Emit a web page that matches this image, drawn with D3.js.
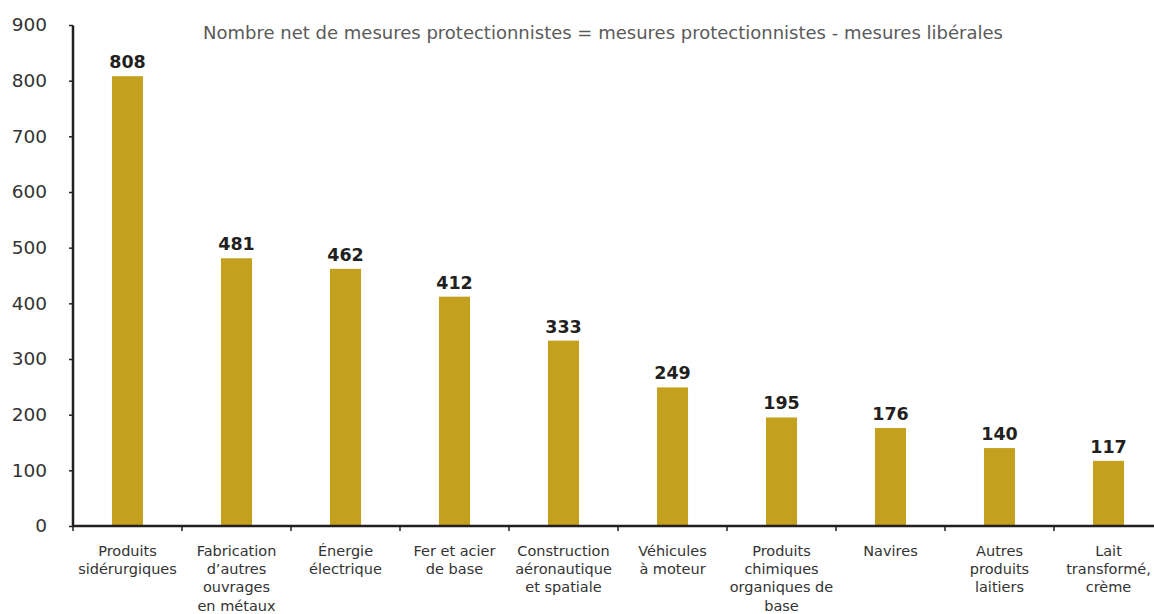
<!DOCTYPE html>
<html lang="fr">
<head>
  <meta charset="UTF-8">
  <title>Mesures protectionnistes</title>
  <script src="https://d3js.org/d3.v7.min.js"></script>
  <style>
    body { margin: 0; background: #fff; }
    svg { display: block; font-family: "DejaVu Sans", sans-serif; }
  </style>
</head>
<body>
<svg id="chart" width="1154" height="614"></svg>
<script>
  // categories (each one split in lines) and values
  const categories = [
    ["Produits", "sidérurgiques"],
    ["Fabrication", "d’autres", "ouvrages", "en métaux"],
    ["Énergie", "électrique"],
    ["Fer et acier", "de base"],
    ["Construction", "aéronautique", "et spatiale"],
    ["Véhicules", "à moteur"],
    ["Produits", "chimiques", "organiques de", "base"],
    ["Navires"],
    ["Autres", "produits", "laitiers"],
    ["Lait", "transformé,", "crème"]
  ];
  const values = [808, 481, 462, 412, 333, 249, 195, 176, 140, 117];
  const yTicks = [0, 100, 200, 300, 400, 500, 600, 700, 800, 900];
  const title = "Nombre net de mesures protectionnistes = mesures protectionnistes - mesures libérales";

  const svg = d3.select("#chart");
  const plotLeft = 73, plotRight = 1163, plotTop = 25, plotBottom = 526;

  const x = d3.scaleBand()
    .domain(d3.range(categories.length))
    .range([plotLeft, plotRight])
    .paddingInner(0)
    .paddingOuter(0);

  const y = d3.scaleLinear().domain([0, 900]).range([plotBottom, plotTop]);

  const barW = x.bandwidth() * 0.285;

  // bars
  svg.selectAll("rect.bar")
    .data(values)
    .join("rect")
    .attr("class", "bar")
    .attr("x", (d, i) => x(i) + x.bandwidth() / 2 - barW / 2)
    .attr("y", d => y(d))
    .attr("width", barW)
    .attr("height", d => y(0) - y(d))
    .attr("fill", "#c3a11f");

  // value labels
  svg.selectAll("text.val")
    .data(values)
    .join("text")
    .attr("class", "val")
    .attr("x", (d, i) => x(i) + x.bandwidth() / 2)
    .attr("y", d => y(d) - 8)
    .attr("text-anchor", "middle")
    .attr("font-size", 17.5)
    .attr("font-weight", "bold")
    .attr("fill", "#231f20")
    .text(d => d);

  // y axis
  const yAxis = svg.append("g")
    .attr("transform", `translate(${plotLeft},0)`)
    .call(d3.axisLeft(y).tickValues(yTicks).tickSize(4).tickPadding(22));
  yAxis.select(".domain").attr("stroke", "#231f20").attr("stroke-width", 2.5)
    .attr("d", `M0,${y(900) + 0.5}V${plotBottom}`);
  yAxis.selectAll(".tick line").attr("stroke", "#231f20").attr("stroke-width", 1.5);
  yAxis.selectAll(".tick text")
    .attr("font-size", 18.5)
    .attr("fill", "#333")
    .attr("font-family", "DejaVu Sans, sans-serif");

  // x axis: ticks at category boundaries
  const xg = svg.append("g");
  xg.append("line")
    .attr("x1", plotLeft).attr("x2", plotRight)
    .attr("y1", plotBottom).attr("y2", plotBottom)
    .attr("stroke", "#231f20").attr("stroke-width", 2.5);
  xg.selectAll("line.tick")
    .data(d3.range(categories.length + 1))
    .join("line")
    .attr("class", "tick")
    .attr("x1", i => i < categories.length ? x(i) : plotRight)
    .attr("x2", i => i < categories.length ? x(i) : plotRight)
    .attr("y1", plotBottom)
    .attr("y2", plotBottom + 5)
    .attr("stroke", "#231f20").attr("stroke-width", 1.5);

  // category labels
  const lab = svg.selectAll("text.cat")
    .data(categories)
    .join("text")
    .attr("class", "cat")
    .attr("x", (d, i) => x(i) + x.bandwidth() / 2)
    .attr("y", 556)
    .attr("text-anchor", "middle")
    .attr("font-size", 14.5)
    .attr("fill", "#333");
  lab.selectAll("tspan")
    .data(d => d)
    .join("tspan")
    .attr("x", function () { return this.parentNode.getAttribute("x"); })
    .attr("dy", (d, i) => i === 0 ? 0 : 18.2)
    .text(d => d);

  // title
  svg.append("text")
    .attr("x", 603)
    .attr("y", 39)
    .attr("text-anchor", "middle")
    .attr("font-size", 18)
    .attr("fill", "#5a5a5a")
    .text(title);
</script>
</body>
</html>
